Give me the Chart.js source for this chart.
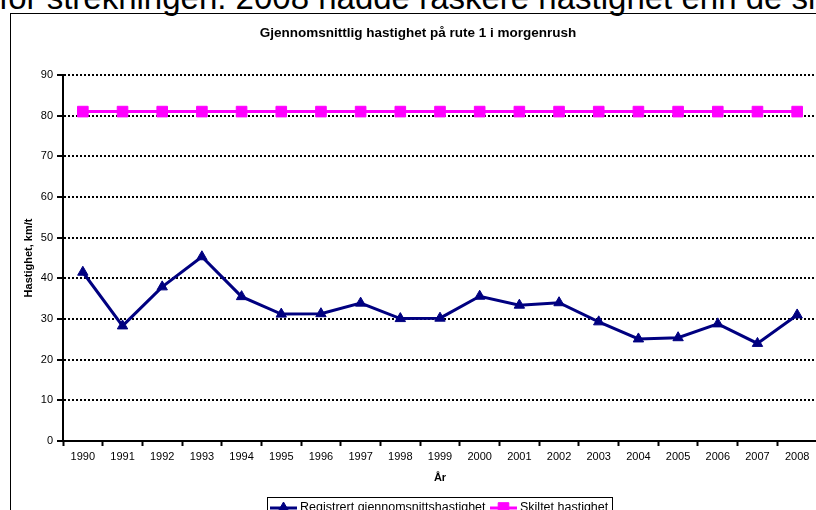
<!DOCTYPE html>
<html>
<head>
<meta charset="utf-8">
<script src="https://cdn.jsdelivr.net/npm/chart.js@4.4.1/dist/chart.umd.min.js"></script>
<style>
  html, body { margin: 0; padding: 0; background: #fff; width: 816px; height: 510px; overflow: hidden; position: relative; }
  #toptext { position: absolute; left: -1px; top: -19px; font-family: "Liberation Sans", Arial, sans-serif; font-size: 33px; line-height: 33px; white-space: nowrap; color: #000; }
  #frame { position: absolute; left: 10px; top: 13px; width: 900px; height: 600px; border: 1px solid #000; overflow: hidden; }
  #frame canvas { position: absolute; left: 0; top: 0; }
</style>
</head>
<body>
<div id="toptext">for strekningen. 2008 hadde raskere hastighet enn de siste</div>
<div id="frame"><canvas id="c" width="820" height="510" style="width:820px;height:510px"></canvas></div>
<script>
const chartTitle = 'Gjennomsnittlig hastighet på rute 1 i morgenrush';
const xTitle = 'År';
const yTitle = 'Hastighet, km/t';
const years = ['1990','1991','1992','1993','1994','1995','1996','1997','1998','1999','2000','2001','2002','2003','2004','2005','2006','2007','2008'];
const registrert = [41.5, 28.3, 37.9, 45.3, 35.5, 31.2, 31.3, 33.9, 30.1, 30.2, 35.6, 33.4, 34.0, 29.3, 25.1, 25.4, 28.8, 24.0, 31.0];
const skiltet = [81, 81, 81, 81, 81, 81, 81, 81, 81, 81, 81, 81, 81, 81, 81, 81, 81, 81, 81];
const seriesNames = ['Registrert gjennomsnittshastighet', 'Skiltet hastighet'];
const yMin = 0, yMax = 90, yStep = 10;

const FONT = '"Liberation Sans", Arial, sans-serif';
const NAVY = '#000080';
const PINK = '#FF00FF';

const decor = {
  id: 'decor',
  afterDraw(chart) {
    const ctx = chart.ctx;
    ctx.save();
    // title
    ctx.fillStyle = '#000';
    ctx.font = 'bold 13.5px ' + FONT;
    ctx.textAlign = 'center';
    ctx.textBaseline = 'middle';
    ctx.fillText(chartTitle, 407, 19);
    // legend
    const bx = 256, by = 483, bw = 345, bh = 22;
    ctx.fillStyle = '#fff';
    ctx.fillRect(bx, by, bw, bh);
    ctx.strokeStyle = '#000';
    ctx.lineWidth = 1;
    ctx.strokeRect(bx + 0.5, by + 0.5, bw, bh);
    const cy = by + 11;
    ctx.font = '12.5px ' + FONT;
    ctx.textAlign = 'left';
    const items = [
      {x: 259, ds: chart.data.datasets[0]},
      {x: 479, ds: chart.data.datasets[1]}
    ];
    items.forEach(it => {
      ctx.strokeStyle = it.ds.borderColor;
      ctx.lineWidth = 3;
      ctx.beginPath();
      ctx.moveTo(it.x, cy);
      ctx.lineTo(it.x + 27, cy);
      ctx.stroke();
      ctx.fillStyle = it.ds.pointBackgroundColor;
      ctx.lineWidth = 1;
      ctx.beginPath();
      if (it.ds.pointStyle === 'triangle') {
        const r = it.ds.pointRadius;
        ctx.moveTo(it.x + 13.5, cy - r);
        ctx.lineTo(it.x + 13.5 + r * 0.866, cy + r * 0.5);
        ctx.lineTo(it.x + 13.5 - r * 0.866, cy + r * 0.5);
        ctx.closePath();
      } else {
        const s = it.ds.pointRadius * Math.SQRT1_2;
        ctx.rect(it.x + 13.5 - s, cy - s, 2 * s, 2 * s);
      }
      ctx.fill();
      ctx.stroke();
      ctx.fillStyle = '#000';
      ctx.fillText(it.ds.label, it.x + 30, cy);
    });
    ctx.restore();
  }
};

new Chart(document.getElementById('c'), {
  type: 'line',
  data: {
    labels: years,
    datasets: [
      {
        label: seriesNames[0],
        data: registrert,
        borderColor: NAVY,
        backgroundColor: NAVY,
        pointBackgroundColor: NAVY,
        pointBorderColor: NAVY,
        borderWidth: 3,
        pointStyle: 'triangle',
        pointRadius: 6,
        pointBorderWidth: 1,
        tension: 0
      },
      {
        label: seriesNames[1],
        data: skiltet,
        borderColor: PINK,
        backgroundColor: PINK,
        pointBackgroundColor: PINK,
        pointBorderColor: PINK,
        borderWidth: 3,
        pointStyle: 'rect',
        pointRadius: 7.5,
        pointBorderWidth: 1,
        tension: 0
      }
    ]
  },
  options: {
    responsive: false,
    animation: false,
    devicePixelRatio: 1,
    layout: { padding: { left: 0, top: 61, right: 14, bottom: 33 } },
    plugins: {
      legend: { display: false },
      title: { display: false },
      tooltip: { enabled: false }
    },
    scales: {
      x: {
        type: 'category',
        offset: true,
        grid: {
          offset: true,
          drawOnChartArea: false,
          drawTicks: true,
          tickLength: 5,
          tickColor: '#000',
          tickWidth: 2
        },
        border: { display: true, color: '#000', width: 2 },
        ticks: { color: '#000', font: { family: FONT, size: 11 }, padding: 4, maxRotation: 0, autoSkip: false },
        title: { display: true, text: xTitle, color: '#000', font: { family: FONT, size: 11, weight: 'bold' }, padding: { top: 0, bottom: 6.4 } },
        afterFit(scale) { scale.height = 50; }
      },
      y: {
        min: yMin, max: yMax,
        ticks: { stepSize: yStep, color: '#000', font: { family: FONT, size: 11 }, padding: 4 },
        grid: {
          color: '#000',
          lineWidth: 2,
          drawTicks: true,
          tickLength: 6,
          tickColor: '#000',
          tickWidth: 2,
          tickBorderDash: []
        },
        border: { display: true, color: '#000', width: 2, dash: [2, 2] },
        title: { display: true, text: yTitle, color: '#000', font: { family: FONT, size: 11, weight: 'bold' }, padding: { top: 11.4, bottom: 0 } },
        afterFit(scale) { scale.width = 52; }
      }
    }
  },
  plugins: [decor]
});
</script>
</body>
</html>
